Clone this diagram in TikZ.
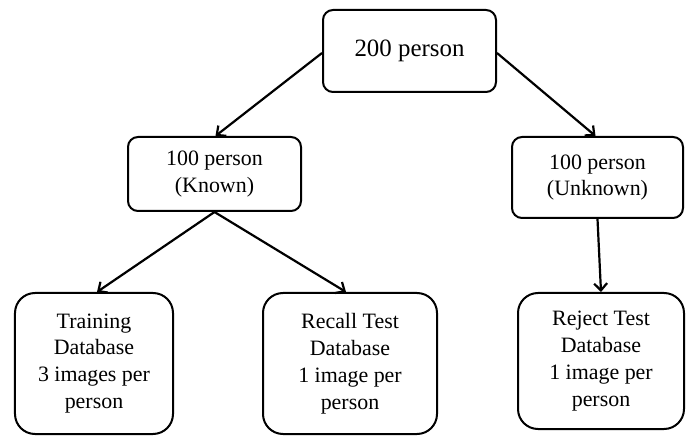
\documentclass[tikz,border=0pt]{standalone}
\usepackage{fontspec}
\setmainfont{Liberation Serif}
\usetikzlibrary{arrows.meta}

\begin{document}
\begin{tikzpicture}[
        x=1bp, y=-1bp,
        group/.style={
            rectangle, rounded corners=10bp, draw=black, line width=2bp,
            align=center, inner sep=0pt, font=\fontsize{22}{27}\selectfont
        },
        dbase/.style={group, rounded corners=20bp},
        arrow/.style={line width=2.2bp, -{Straight Barb[length=7bp, width=13bp, line width=2.2bp]}}
    ]
    \useasboundingbox (0,0) rectangle (699,436);

    % Groups
    \node (top) [group, minimum width=173bp, minimum height=82bp, font=\fontsize{25}{30}\selectfont] at (409.5, 51) {200 person};

    \node (known) [group, minimum width=173bp, minimum height=74bp] at (214.5, 174) {
        100 person\\
        (Known)
    };

    \node (unknown) [group, minimum width=171bp, minimum height=81bp] at (597.5, 177.5) {
        100 person\\
        (Unknown)
    };

    % Databases
    \node (training) [dbase, minimum width=158bp, minimum height=141bp] at (94, 363.5) {
        Training\\
        Database\\
        3 images per\\
        person
    };

    \node (recall) [dbase, minimum width=174bp, minimum height=141bp] at (350, 363.5) {
        Recall Test\\
        Database\\
        1 image per\\
        person
    };

    \node (reject) [dbase, minimum width=166bp, minimum height=136bp] at (601, 361) {
        Reject Test\\
        Database\\
        1 image per\\
        person
    };

    % Arrows
    \draw [arrow] ([yshift=-2bp]top.west) -- ([xshift=1bp]known.north);
    \draw [arrow] ([yshift=-2bp]top.east) -- ([xshift=-2bp]unknown.north);
    \draw [arrow] (known.south) -- ([xshift=3bp]training.north);
    \draw [arrow] (known.south) -- ([xshift=-4bp]recall.north);
    \draw [arrow] (unknown.south) -- (reject.north);

\end{tikzpicture}
\end{document}
